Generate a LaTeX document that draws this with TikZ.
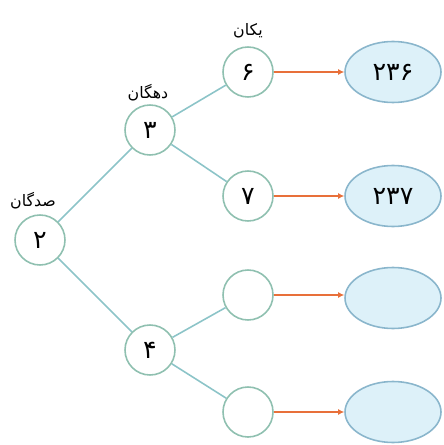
\documentclass[tikz,border=0pt]{standalone}
\usepackage{fontspec}
\TeXXeTstate=1
\newfontfamily\arabicfont[Script=Arabic]{DejaVu Sans}
\usetikzlibrary{arrows.meta,shapes.geometric}
\definecolor{treeline}{HTML}{8CC4C8}
\definecolor{ringline}{HTML}{8FC0B0}
\definecolor{ovalfill}{HTML}{DDF1F9}
\definecolor{ovalline}{HTML}{8AB6CC}
\definecolor{arrowcol}{HTML}{E8703A}
\tikzset{
  digit/.style={circle,draw=ringline,line width=0.9pt,fill=white,minimum size=1cm,inner sep=0pt,font=\arabicfont\Large},
  result/.style={ellipse,draw=ovalline,line width=0.9pt,fill=ovalfill,minimum width=1.92cm,minimum height=1.22cm,inner sep=0pt,font=\arabicfont\Large},
  place/.style={font=\arabicfont\small,inner sep=0pt},
  branch/.style={treeline,line width=0.9pt},
  toresult/.style={arrowcol,line width=1pt,-{Latex[length=3.5pt,width=3.5pt]}}
}
\begin{document}
\begin{tikzpicture}
  \useasboundingbox (0,0) rectangle (8.86,-8.9);
  % place-value circles
  \node[digit] (hund) at (0.80,-4.80) {۲};
  \node[digit] (tenA) at (3.00,-2.60) {۳};
  \node[digit] (tenB) at (3.00,-7.00) {۴};
  \node[digit] (oneA) at (4.96,-1.44) {۶};
  \node[digit] (oneB) at (4.96,-3.92) {۷};
  \node[digit] (oneC) at (4.96,-5.90) {};
  \node[digit] (oneD) at (4.96,-8.24) {};
  % numbers
  \node[result] (numA) at (7.86,-1.44) {۲۳۶};
  \node[result] (numB) at (7.86,-3.92) {۲۳۷};
  \node[result] (numC) at (7.86,-5.96) {};
  \node[result] (numD) at (7.86,-8.24) {};
  % labels
  \node[place] (hundlbl) at (0.66,-4.02) {\beginR صدگان\endR};
  \node[place] (tenlbl) at (2.96,-1.86) {\beginR دهگان\endR};
  \node[place] (onelbl) at (4.96,-0.62) {\beginR یکان\endR};
  % branches
  \draw[branch] (hund) -- (tenA);
  \draw[branch] (hund) -- (tenB);
  \draw[branch] (tenA) -- (oneA);
  \draw[branch] (tenA) -- (oneB);
  \draw[branch] (tenB) -- (oneC);
  \draw[branch] (tenB) -- (oneD);
  \draw[toresult] (oneA) -- (numA);
  \draw[toresult] (oneB) -- (numB);
  \draw[toresult] (oneC) -- (oneC -| numC.west);
  \draw[toresult] (oneD) -- (numD);
\end{tikzpicture}
\end{document}
